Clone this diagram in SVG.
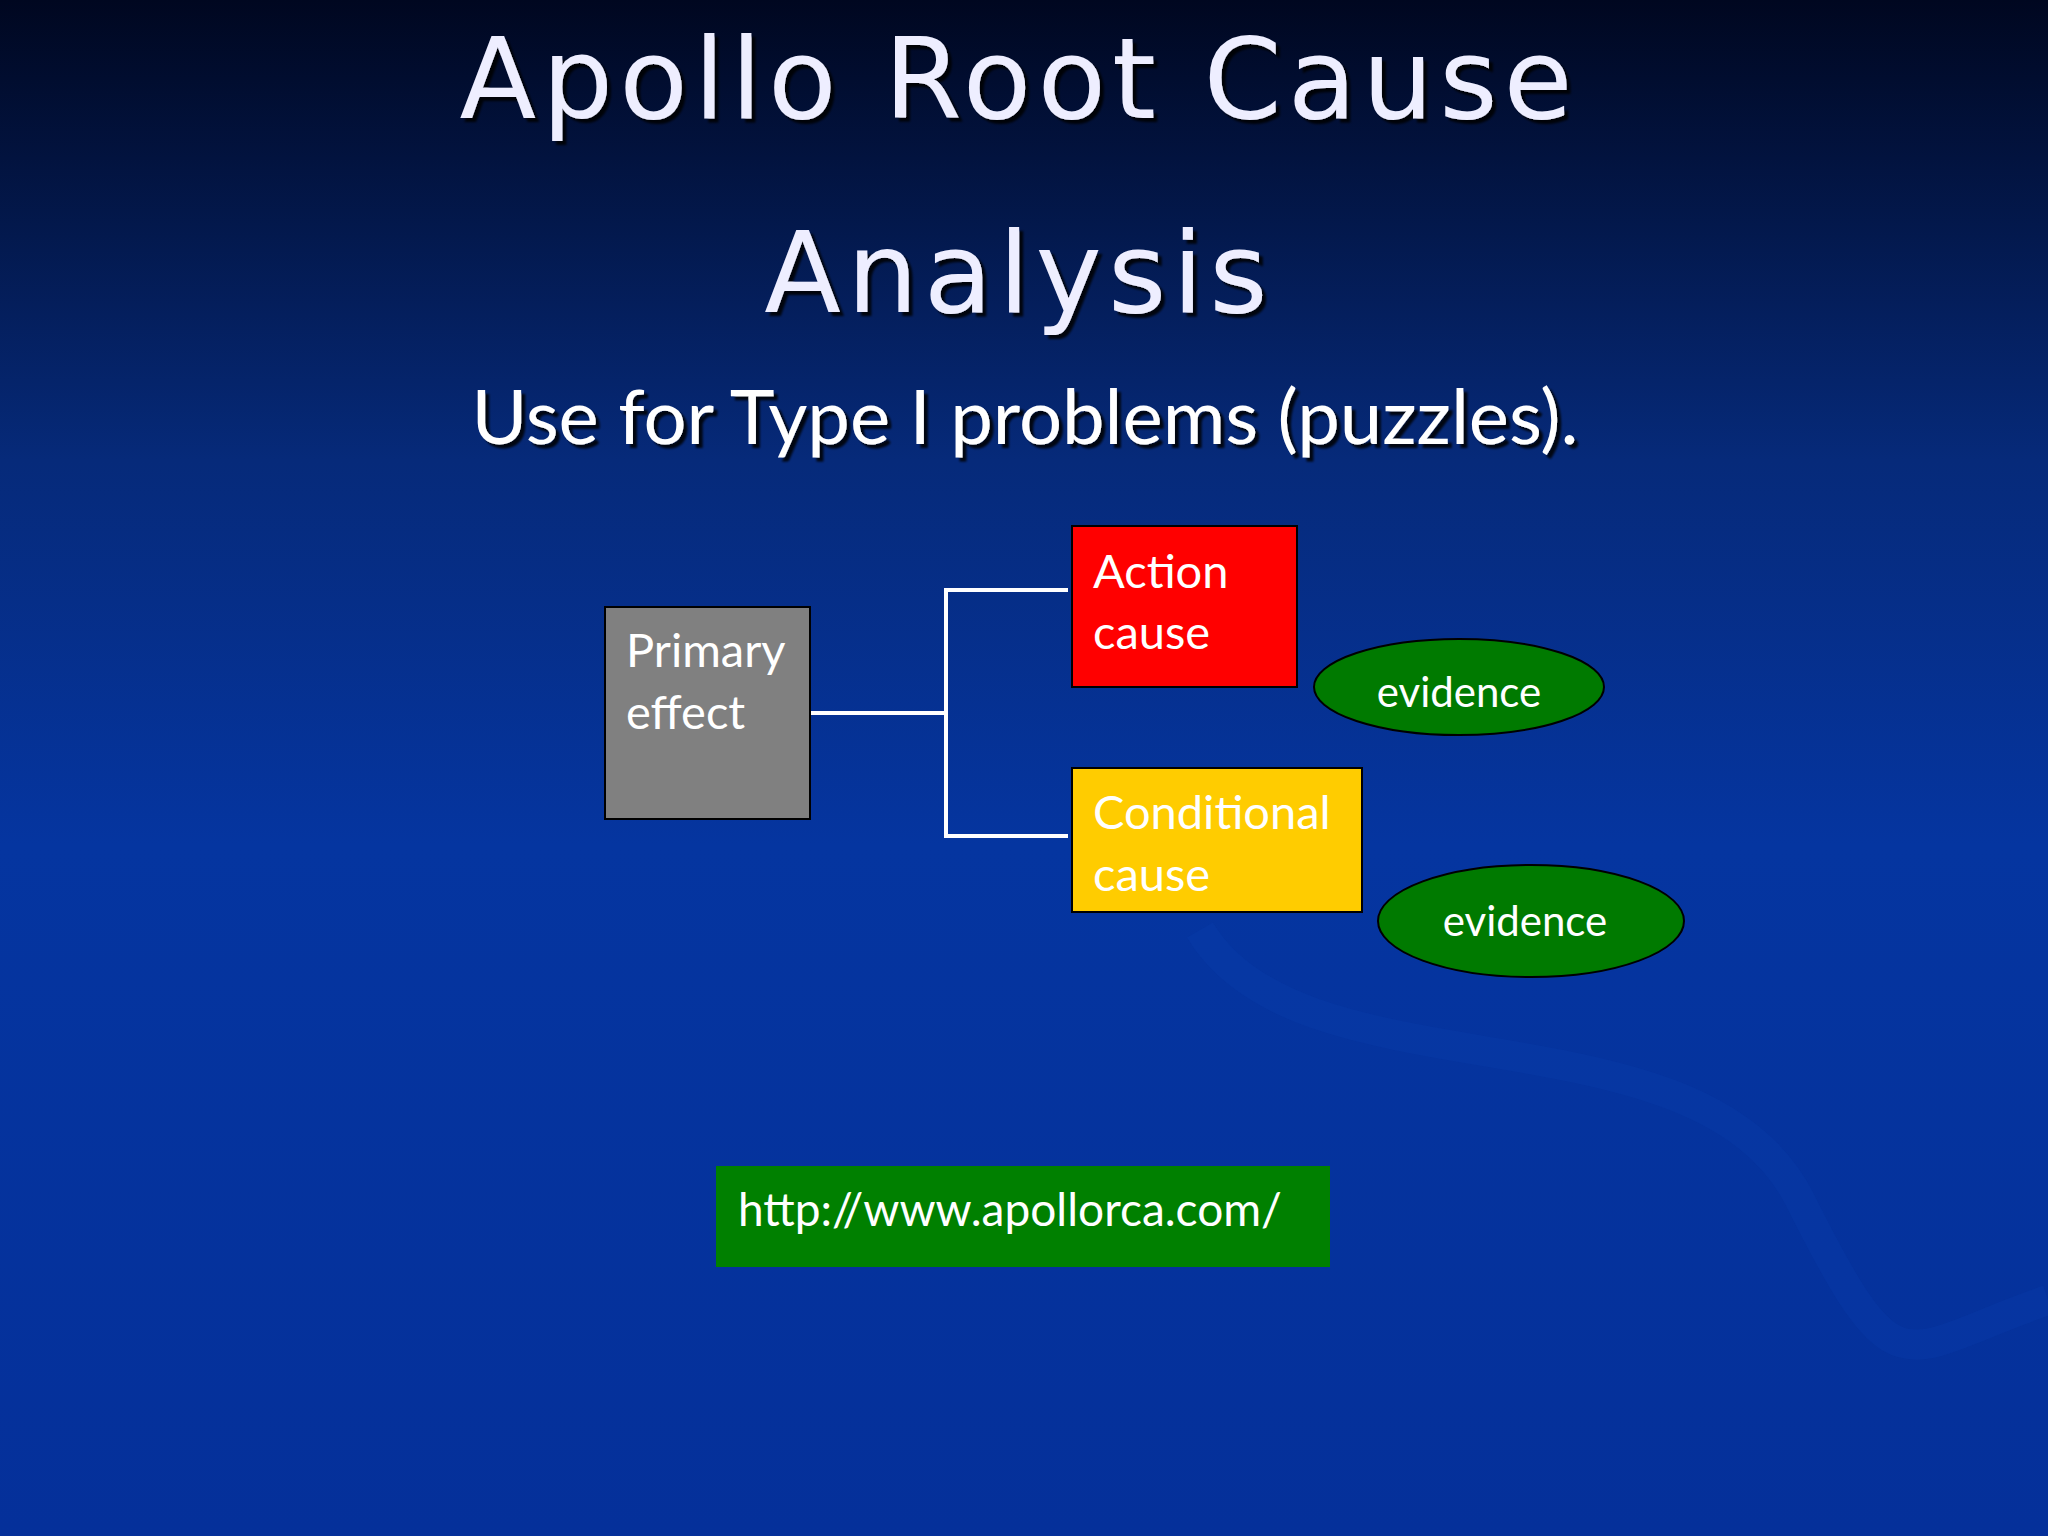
<svg xmlns="http://www.w3.org/2000/svg" width="2048" height="1536" viewBox="0 0 2048 1536">
<defs>
<linearGradient id="bg" x1="0" y1="0" x2="0" y2="1">
<stop offset="0" stop-color="#000720"/>
<stop offset="0.3" stop-color="#062a7a"/>
<stop offset="0.55" stop-color="#0535a0"/>
<stop offset="1" stop-color="#05309a"/>
</linearGradient>
<filter id="sh"><feDropShadow dx="4" dy="4" stdDeviation="1" flood-color="#000" flood-opacity="0.85"/></filter>
</defs>
<style>
.t{font-family:"Lato","Open Sans",sans-serif;fill:#fff}
.title{font-family:"DejaVu Sans",sans-serif;fill:#eef;font-size:112px;letter-spacing:6px}
.n{font-size:47px}
.box{stroke:#000;stroke-width:2}
.c{stroke:#fff;stroke-width:4;fill:none}
</style>
<rect width="2048" height="1536" fill="url(#bg)"/>
<path d="M1200 930 C1300 1100 1700 1000 1800 1200 S1900 1350 2048 1300" stroke="#0a3fae" stroke-width="30" fill="none" opacity="0.25"/>
<g filter="url(#sh)">
<text class="title" x="1019" y="118" text-anchor="middle">Apollo Root Cause</text>
<text class="title" x="1019" y="312" text-anchor="middle">Analysis</text>
<text class="t" x="1025" y="444" font-size="76" text-anchor="middle">Use for Type I problems (puzzles).</text>
</g>
<g id="connectors">
<polyline class="c" points="806,713 946,713"/>
<polyline class="c" points="1068,590 946,590 946,836 1068,836"/>
</g>
<g id="primary"><rect class="box" x="605" y="607" width="205" height="212" fill="#808080"/>
<text class="t n" x="626" y="667">Primary</text><text class="t n" x="626" y="729">effect</text></g>
<g id="action"><rect class="box" x="1072" y="526" width="225" height="161" fill="#ff0000"/>
<text class="t n" x="1093" y="588">Action</text><text class="t n" x="1093" y="649">cause</text></g>
<g id="conditional"><rect class="box" x="1072" y="768" width="290" height="144" fill="#ffcc00"/>
<text class="t n" x="1093" y="829">Conditional</text><text class="t n" x="1093" y="891">cause</text></g>
<g id="evidence1"><ellipse class="box" cx="1459" cy="687" rx="145" ry="48" fill="#007a00"/>
<text class="t" x="1459" y="707" font-size="42" text-anchor="middle">evidence</text></g>
<g id="evidence2"><ellipse class="box" cx="1531" cy="921" rx="153" ry="56" fill="#007a00"/>
<text class="t" x="1525" y="936" font-size="42" text-anchor="middle">evidence</text></g>
<g id="url"><rect x="716" y="1166" width="614" height="101" fill="#008000"/>
<text class="t" x="738" y="1226" font-size="46">http://www.apollorca.com/</text></g>
</svg>
